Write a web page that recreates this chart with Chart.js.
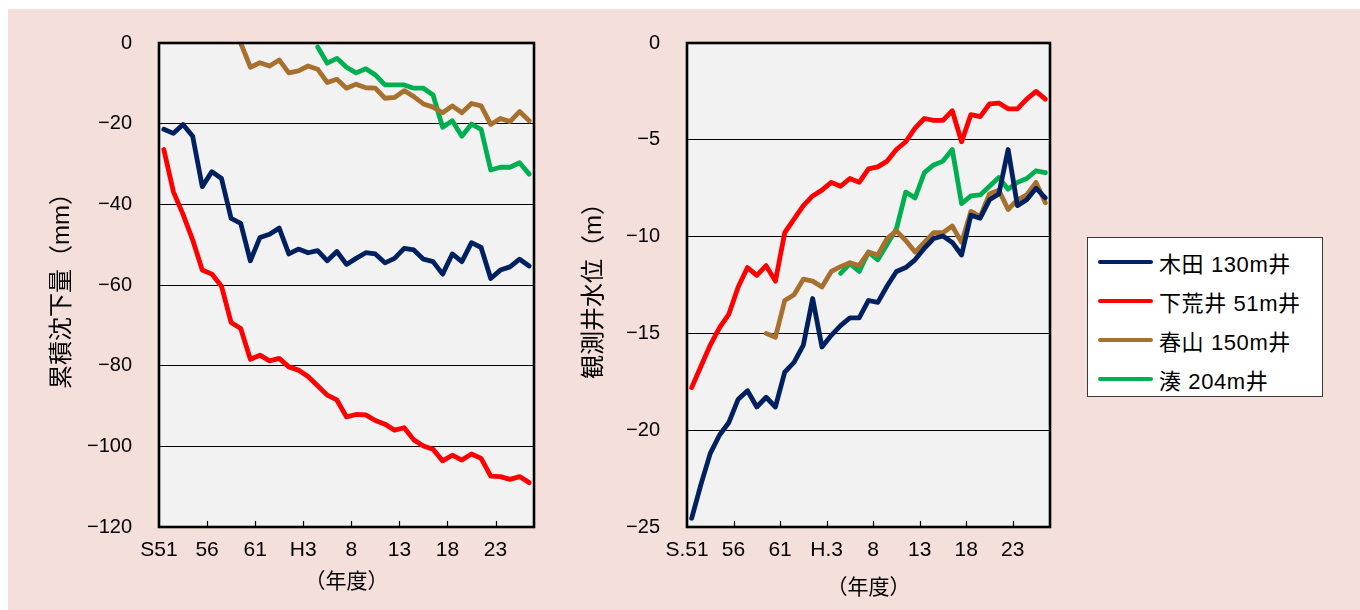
<!DOCTYPE html>
<html lang="ja">
<head>
<meta charset="utf-8">
<title>累積沈下量と観測井水位</title>
<script src="https://cdn.jsdelivr.net/npm/chart.js@4.4.1/dist/chart.umd.min.js"></script>
<style>
  html, body { margin: 0; padding: 0; background: #fff; width: 1360px; height: 610px; overflow: hidden; }
  #fundo { position: absolute; left: 8px; top: 9px; width: 1352px; height: 601px; background: #f4dfda; }
  canvas { position: absolute; top: 0; }
  #graficoSubsidencia { left: 0; }
  #graficoNivel { left: 560px; }
  #legenda {
    position: absolute; left: 1087px; top: 237px; width: 234px; height: 154px;
    background: #fff; border: 1px solid #3a3a3a;
    font-family: 'Liberation Sans', 'Noto Sans CJK JP', sans-serif; font-size: 22px; color: #000;
    letter-spacing: 0.6px;
    padding-top: 4px; box-sizing: content-box;
  }
  .item { height: 39px; display: flex; align-items: center; }
  .traco { width: 55px; height: 4px; border-radius: 2px; margin-left: 10px; margin-right: 6px; }
</style>
</head>
<body>
<div id="fundo"></div>
<canvas id="graficoSubsidencia" width="560" height="610"></canvas>
<canvas id="graficoNivel" width="520" height="610"></canvas>
<div id="legenda"></div>
<script>
// 年度 S51(1976) 〜 H26(2014)
const anos = [
  1976, 1977, 1978, 1979, 1980, 1981, 1982, 1983, 1984, 1985,
  1986, 1987, 1988, 1989, 1990, 1991, 1992, 1993, 1994, 1995,
  1996, 1997, 1998, 1999, 2000, 2001, 2002, 2003, 2004, 2005,
  2006, 2007, 2008, 2009, 2010, 2011, 2012, 2013, 2014
];

// tick positions (in years from S51) and their labels
const posTicks = [0, 5, 10, 15, 20, 25, 30, 35];
const rotulosEsq = ['S51', '56', '61', 'H3', '8', '13', '18', '23'];
const rotulosDir = ['S.51', '56', '61', 'H.3', '8', '13', '18', '23'];

const nomes = ['木田 130m井', '下荒井 51m井', '春山 150m井', '湊 204m井'];

// 累積沈下量 (mm)
const kidaSub = [
  -21.4, -22.4, -20.2, -23.1, -35.6, -31.9, -33.6, -43.5, -44.7, -54.0,
  -48.2, -47.4, -45.9, -52.3, -51.1, -52.0, -51.5, -54.0, -51.7, -54.9,
  -53.4, -52.0, -52.3, -54.5, -53.4, -50.9, -51.3, -53.6, -54.2, -57.3,
  -52.3, -54.2, -49.5, -50.7, -58.4, -56.3, -55.5, -53.6, -55.3
];
const shimoaraiSub = [
  -26.4, -36.9, -42.5, -48.8, -56.3, -57.3, -60.3, -69.3, -70.8, -78.4,
  -77.4, -78.8, -78.2, -80.3, -81.1, -82.7, -85.0, -87.3, -88.5, -92.7,
  -92.1, -92.2, -93.6, -94.5, -96.0, -95.4, -98.4, -99.9, -100.7, -103.6,
  -102.2, -103.4, -101.9, -103.0, -107.4, -107.5, -108.2, -107.5, -109.0
];
const haruyamaSub = [
  null, null, null, null, null, null, null, null, 0, -6.0,
  -4.9, -5.7, -4.2, -7.4, -6.9, -5.7, -6.5, -9.8, -9.0, -11.2,
  -10.2, -11.1, -11.2, -13.7, -13.5, -11.8, -13.3, -15.1, -15.9, -17.3,
  -15.6, -17.3, -15.0, -15.6, -20.2, -18.7, -19.5, -17.0, -19.3
];
const minatoSub = [
  null, null, null, null, null, null, null, null, null, null,
  null, null, null, null, null, null, -1.0, -5.0, -3.8, -6.0,
  -7.4, -6.4, -7.9, -10.4, -10.4, -10.4, -11.2, -11.2, -12.9, -20.9,
  -19.3, -23.1, -20.1, -21.4, -31.5, -30.8, -30.8, -29.7, -32.5
];

// 観測井水位 (m)
const kidaNivel = [
  -24.55, -22.8, -21.2, -20.25, -19.6, -18.4, -17.96, -18.8, -18.3, -18.8,
  -17.0, -16.5, -15.6, -13.2, -15.7, -15.1, -14.6, -14.2, -14.2, -13.3,
  -13.4, -12.55, -11.8, -11.6, -11.2, -10.6, -10.1, -9.97, -10.3, -10.95,
  -8.9, -9.05, -8.1, -7.8, -5.5, -8.4, -8.1, -7.5, -8.0
];
const shimoaraiNivel = [
  -17.8, -16.7, -15.6, -14.7, -14.0, -12.6, -11.6, -12.0, -11.5, -12.3,
  -9.8, -9.1, -8.4, -7.9, -7.6, -7.2, -7.4, -7.0, -7.2, -6.5,
  -6.4, -6.1, -5.5, -5.1, -4.4, -3.9, -4.0, -4.0, -3.5, -5.1,
  -3.7, -3.8, -3.15, -3.1, -3.4, -3.4, -2.9, -2.5, -2.9
];
const haruyamaNivel = [
  null, null, null, null, null, null, null, null, -15.0, -15.2,
  -13.3, -13.0, -12.2, -12.3, -12.6, -11.8, -11.55, -11.35, -11.5, -10.8,
  -10.95, -10.1, -9.7, -10.2, -10.8, -10.3, -9.8, -9.8, -9.45, -10.3,
  -8.7, -8.97, -7.8, -7.6, -8.6, -8.1, -7.85, -7.2, -8.25
];
const minatoNivel = [
  null, null, null, null, null, null, null, null, null, null,
  null, null, null, null, null, null, -11.9, -11.4, -11.8, -10.8,
  -11.2, -10.4, -9.6, -7.7, -8.0, -6.7, -6.3, -6.1, -5.5, -8.3,
  -7.9, -7.85, -7.4, -6.95, -7.55, -7.2, -7.0, -6.6, -6.7
];

const cores = ['#002060', '#ff0000', '#a8702f', '#00b050'];

Chart.defaults.font.family = "'Liberation Sans', 'Noto Sans CJK JP', sans-serif";
Chart.defaults.color = '#000';

// gray plot area, black frame and inward tick marks on the year axis
const molduraPlot = {
  id: 'molduraPlot',
  beforeDraw(chart) {
    const { ctx, chartArea: a } = chart;
    ctx.save();
    ctx.fillStyle = '#f2f2f2';
    ctx.fillRect(a.left, a.top, a.right - a.left, a.bottom - a.top);
    ctx.restore();
  },
  afterDraw(chart) {
    const { ctx, chartArea: a } = chart;
    const x = chart.scales.x;
    ctx.save();
    ctx.strokeStyle = '#000';
    ctx.lineWidth = 1.2;
    x.ticks.forEach(t => {
      if (t.value === 0) return;
      const px = Math.round(x.getPixelForValue(t.value)) + 0.5;
      ctx.beginPath();
      ctx.moveTo(px, a.bottom);
      ctx.lineTo(px, a.bottom - 6);
      ctx.stroke();
    });
    ctx.lineWidth = 2.6;
    ctx.strokeRect(a.left, a.top, a.right - a.left, a.bottom - a.top);
    ctx.restore();
  }
};

function serie(valores) {
  return valores.map((v, i) => ({ x: i + 0.5, y: v }));
}

function montaDatasets(listas) {
  return listas.map((valores, k) => ({
    label: nomes[k],
    data: serie(valores),
    borderColor: cores[k],
    backgroundColor: cores[k],
    borderWidth: 4.8,
    borderJoinStyle: 'round',
    borderCapStyle: 'round',
    pointRadius: 0,
    tension: 0,
    spanGaps: false
  }));
}

function opcoes(cfg) {
  return {
    responsive: false,
    animation: false,
    layout: { padding: { left: 0, top: 43, right: cfg.direita, bottom: 0 } },
    plugins: { legend: { display: false }, tooltip: { enabled: false } },
    scales: {
      x: {
        type: 'linear',
        min: 0,
        max: anos.length,
        afterBuildTicks: sc => { sc.ticks = posTicks.map(v => ({ value: v })); },
        afterFit: sc => { sc.height = 83; },
        grid: { display: false, drawTicks: false },
        border: { display: false },
        ticks: {
          padding: 11,
          maxRotation: 0,
          autoSkip: false,
          font: { size: 21 },
          callback: (v, i) => cfg.rotulos[i]
        },
        title: {
          display: true,
          text: '（年度）',
          font: { size: 21 },
          padding: { top: 0, bottom: cfg.tituloX }
        }
      },
      y: {
        min: cfg.min,
        max: 0,
        afterFit: sc => { sc.width = cfg.larguraY; },
        grid: { color: '#000', lineWidth: 1, drawTicks: false },
        border: { display: false },
        ticks: {
          stepSize: cfg.passo,
          padding: 27,
          font: { size: 20 },
          callback: v => (v === 0 ? '0' : '−' + Math.abs(v))
        },
        title: {
          display: true,
          text: cfg.tituloY,
          font: { size: 24 },
          padding: { top: cfg.tituloYPad, bottom: 0 }
        }
      }
    }
  };
}

const graficoSubsidencia = new Chart(document.getElementById('graficoSubsidencia'), {
  type: 'line',
  data: { datasets: montaDatasets([kidaSub, shimoaraiSub, haruyamaSub, minatoSub]) },
  options: opcoes({
    direita: 26, larguraY: 159, min: -120, passo: 20,
    rotulos: rotulosEsq, tituloX: 15,
    tituloY: '累積沈下量（mm）', tituloYPad: 48
  }),
  plugins: [molduraPlot]
});

const graficoNivel = new Chart(document.getElementById('graficoNivel'), {
  type: 'line',
  data: { datasets: montaDatasets([kidaNivel, shimoaraiNivel, haruyamaNivel, minatoNivel]) },
  options: opcoes({
    direita: 30, larguraY: 127, min: -25, passo: 5,
    rotulos: rotulosDir, tituloX: 9,
    tituloY: '観測井水位（m）', tituloYPad: 20
  }),
  plugins: [molduraPlot]
});

// legend shared by both charts
const legenda = document.getElementById('legenda');
graficoNivel.data.datasets.forEach(ds => {
  const item = document.createElement('div');
  item.className = 'item';
  const traco = document.createElement('div');
  traco.className = 'traco';
  traco.style.background = ds.borderColor;
  const texto = document.createElement('span');
  texto.textContent = ds.label;
  item.appendChild(traco);
  item.appendChild(texto);
  legenda.appendChild(item);
});
</script>
</body>
</html>
